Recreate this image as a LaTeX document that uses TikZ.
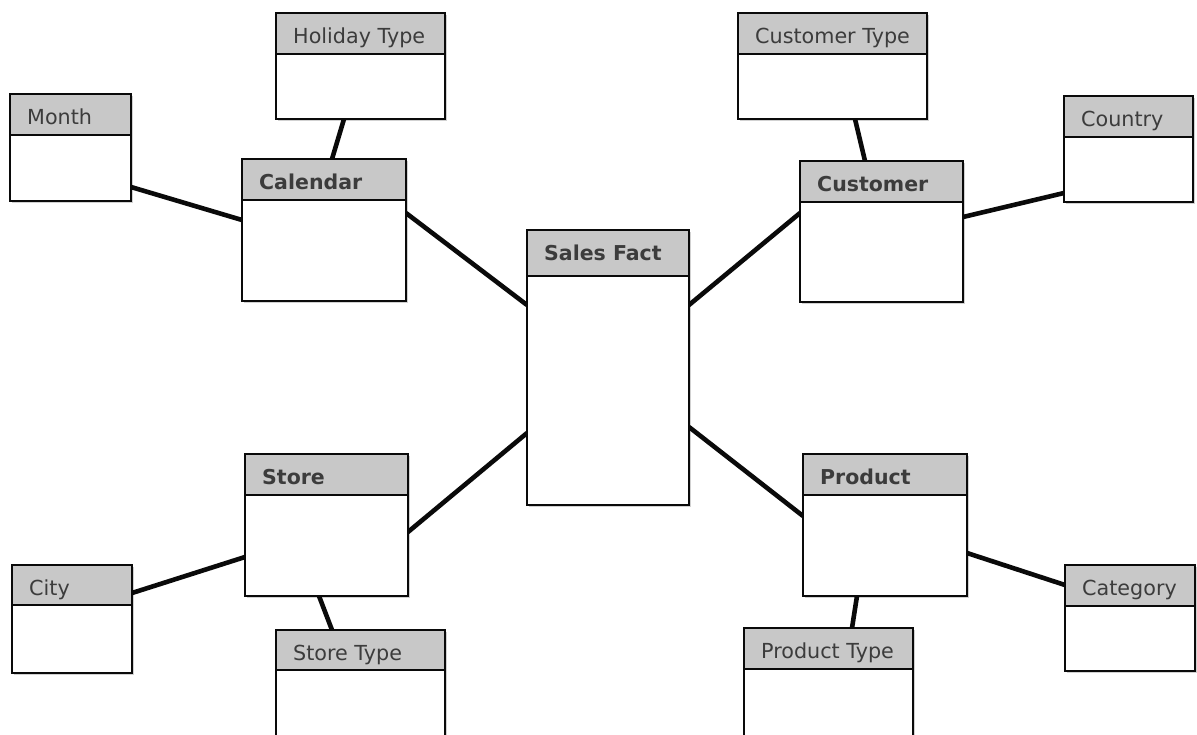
\documentclass[tikz,border=0pt]{standalone}
\usepackage{fontspec}
\setmainfont{DejaVu Sans}
\usetikzlibrary{calc,shadows,backgrounds}

\definecolor{headfill}{RGB}{200,200,200}
\definecolor{titleink}{RGB}{60,60,60}
\definecolor{edgeink}{RGB}{10,10,10}

\tikzset{
  tablebody/.style={rectangle, draw=edgeink, fill=white, line width=2.2pt,
    inner sep=0pt, outer sep=0pt, anchor=north west,
    drop shadow={shadow xshift=2pt, shadow yshift=-2pt, opacity=0.18, fill=black}},
  tablehead/.style={rectangle, draw=edgeink, fill=headfill, line width=2.2pt,
    inner sep=0pt, outer sep=0pt, anchor=north west},
  plaintitle/.style={anchor=base west, inner sep=0pt, text=titleink,
    font=\fontsize{20.7}{24}\selectfont},
  boldtitle/.style={plaintitle, font=\fontsize{20.5}{24}\selectfont\bfseries},
  link/.style={line width=4.6pt, draw=edgeink}
}

% #1 name, #2 left, #3 top, #4 width, #5 height, #6 header height, #7 title, #8 title style
\newcommand\erbox[8]{%
  \node[tablebody, minimum width=#4pt, minimum height=#5pt] (#1) at (#2,#3) {};
  \node[tablehead, minimum width=#4pt, minimum height=#6pt] (#1h) at (#1.north west) {};
  \node[#8] (#1t) at ($(#1.north west)+(17,30)$) {#7};
}

\begin{document}
\begin{tikzpicture}[x=1pt, y=-1pt]
\useasboundingbox (0,0) rectangle (1197,734);
\clip (0,0) rectangle (1197,734);

% central fact table
\erbox{sf}{527}{230}{162}{275}{46}{Sales Fact}{boldtitle}

% dimension tables
\erbox{cal}{242}{159}{164}{142}{41}{Calendar}{boldtitle}
\erbox{cust}{800}{161}{163}{141}{41}{Customer}{boldtitle}
\erbox{store}{245}{454}{163}{142}{41}{Store}{boldtitle}
\erbox{prod}{803}{454}{164}{142}{41}{Product}{boldtitle}

% outer dimension tables
\erbox{holi}{276}{13}{169}{106}{41}{Holiday Type}{plaintitle}
\erbox{month}{10}{94}{121}{107}{41}{Month}{plaintitle}
\erbox{ctype}{738}{13}{189}{106}{41}{Customer Type}{plaintitle}
\erbox{country}{1064}{96}{129}{106}{41}{Country}{plaintitle}
\erbox{city}{12}{565}{120}{108}{40}{City}{plaintitle}
\erbox{stype}{276}{630}{169}{130}{40}{Store Type}{plaintitle}
\erbox{cat}{1065}{565}{130}{106}{41}{Category}{plaintitle}
\erbox{ptype}{744}{628}{169}{132}{41}{Product Type}{plaintitle}

\begin{scope}[on background layer]
  \fill[white] (0,0) rectangle (1197,734);
  % fact to dimensions
  \draw[link] ($(cal.north east)+(0,54)$) -- ($(sf.north west)+(0,75)$);
  \draw[link] ($(sf.north east)+(0,75)$) -- ($(cust.north west)+(0,52)$);
  \draw[link] ($(sf.north west)+(0,203)$) -- ($(store.north east)+(0,78)$);
  \draw[link] ($(sf.north east)+(0,197)$) -- ($(prod.north west)+(0,62)$);
  % calendar hierarchy
  \draw[link] ($(month.north east)+(0,93)$) -- ($(cal.north west)+(0,61)$);
  \draw[link] ($(holi.south west)+(68,0)$) -- ($(cal.north west)+(90,0)$);
  % customer hierarchy
  \draw[link] ($(ctype.south west)+(117,0)$) -- ($(cust.north west)+(65,0)$);
  \draw[link] ($(cust.north east)+(0,56)$) -- ($(country.north west)+(0,97)$);
  % store hierarchy
  \draw[link] ($(city.north east)+(0,28)$) -- ($(store.north west)+(0,103)$);
  \draw[link] ($(store.south west)+(74,0)$) -- ($(stype.north west)+(56,0)$);
  % product hierarchy
  \draw[link] ($(prod.north east)+(0,99)$) -- ($(cat.north west)+(0,20)$);
  \draw[link] ($(prod.south west)+(54,0)$) -- ($(ptype.north west)+(108,0)$);
\end{scope}
\end{tikzpicture}
\end{document}
